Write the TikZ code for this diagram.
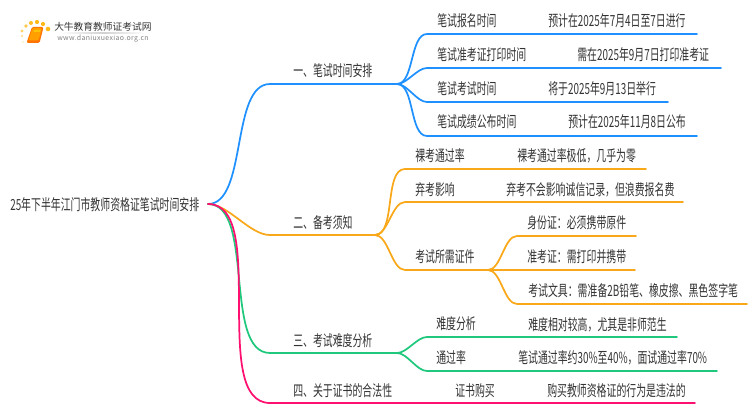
\documentclass[tikz,border=0pt]{standalone}
\usepackage{fontspec}
\setmainfont{Noto Sans CJK SC}
\usetikzlibrary{calc}
\definecolor{cblue}{HTML}{1E90FF}
\definecolor{corange}{HTML}{F9A81A}
\definecolor{cgreen}{HTML}{1FC87C}
\definecolor{cpink}{HTML}{FF1070}
\definecolor{ctext}{HTML}{333333}
\newcommand{\sq}[1]{\scalebox{0.645}[1]{#1}}
\tikzset{
  lbl/.style={anchor=west,inner sep=0pt,text=ctext,font=\fontsize{11.5pt}{13pt}\selectfont},
  conn/.style={line width=1.3pt,line cap=round},
  sbend/.style={out=0,in=180,looseness=0.75}
}
\begin{document}
\begin{tikzpicture}[x=0.75pt,y=-0.75pt]
\useasboundingbox (0,0) rectangle (750,410);
% logo
\foreach \x/\y/\r/\o in {23/42/1/.25,22/36/1.3/.4,22/31/1.6/.6,26/26/1.9/.7,31/23/2/.85,37/22/2.1/.9,43/24/2.1/.9,48/29/2.3/.9}
  \fill[orange!60!yellow,opacity=\o] (\x,\y) circle[radius=\r*0.75pt];
\path[fill=orange!90!red,rounded corners=1pt] (32,27) -- (43.5,27) -- (39.5,43) -- (26.5,43) -- cycle;
\path[fill=orange!75!yellow,rounded corners=1pt] (32.5,28) -- (42,28) -- (38.5,40.5) -- (28.5,40.5) -- cycle;
\path[fill=yellow!55!orange] (34,30) -- (40.5,30) -- (40,32) -- (33.5,32) -- cycle;
\shade[left color=white,right color=white,middle color=black!18] (60,32.6) rectangle (146,33.6);
\node[lbl,font=\fontsize{7.3pt}{9pt}\selectfont] (logot) at (54,27) {大牛教育教师证考试网};
\node[lbl,text=black!50,font=\fontsize{5.2pt}{6pt}\selectfont] (logou) at (57,39) {\addfontfeature{LetterSpace=5}www.daniuxuexiao.org.cn};
% anchors of connectors
\coordinate (root) at (208,204);
\coordinate (b1s) at (270,84); \coordinate (b1h) at (397,84);
\coordinate (b2s) at (270,235); \coordinate (b2h) at (375,235);
\coordinate (b3s) at (270,353); \coordinate (b3h) at (397,353);
\coordinate (b4s) at (270,403); \coordinate (b4e) at (695,403);
\coordinate (a1) at (427,34); \coordinate (a1e) at (697,34);
\coordinate (a2) at (427,68); \coordinate (a2e) at (721,68);
\coordinate (a3) at (427,102); \coordinate (a3e) at (668,102);
\coordinate (a4) at (427,136); \coordinate (a4e) at (697,136);
\coordinate (c1) at (405,169); \coordinate (c1e) at (646,169);
\coordinate (c2) at (405,202); \coordinate (c2e) at (683,202);
\coordinate (c3) at (405,270); \coordinate (c3h) at (488,270);
\coordinate (e1) at (517,236); \coordinate (e1e) at (636,236);
\coordinate (e2) at (517,270); \coordinate (e2e) at (635,270);
\coordinate (e3) at (517,304); \coordinate (e3e) at (747,304);
\coordinate (f1) at (427,337); \coordinate (f1e) at (677,337);
\coordinate (f2) at (427,371); \coordinate (f2e) at (717,371);
% connectors
\begin{scope}[conn,cblue]
\draw (root) to[sbend] (b1s) -- (b1h);
\draw (b1h) to[sbend] (a1) -- (a1e);
\draw (b1h) to[sbend] (a2) -- (a2e);
\draw (b1h) to[sbend] (a3) -- (a3e);
\draw (b1h) to[sbend] (a4) -- (a4e);
\end{scope}
\begin{scope}[conn,corange]
\draw (root) to[sbend] (b2s) -- (b2h);
\draw (b2h) to[sbend] (c1) -- (c1e);
\draw (b2h) to[sbend] (c2) -- (c2e);
\draw (b2h) to[sbend] (c3) -- (c3h);
\draw (c3h) to[sbend] (e1) -- (e1e);
\draw (c3h) to[sbend] (e2) -- (e2e);
\draw (c3h) to[sbend] (e3) -- (e3e);
\end{scope}
\begin{scope}[conn,cgreen]
\draw (root) to[sbend] (b3s) -- (b3h);
\draw (b3h) to[sbend] (f1) -- (f1e);
\draw (b3h) to[sbend] (f2) -- (f2e);
\end{scope}
\draw[conn,cpink] (root) to[sbend] (b4s) -- (b4e);
% labels
\node[lbl] (root-t) at (10,205) {\sq{25年下半年江门市教师资格证笔试时间安排}};
\node[lbl] (n1) at (293,71) {\sq{一、笔试时间安排}};
\node[lbl] (n2) at (293,223) {\sq{二、备考须知}};
\node[lbl] (n3) at (293,341) {\sq{三、考试难度分析}};
\node[lbl] (n4) at (293,391) {\sq{四、关于证书的合法性}};
\node[lbl] (t1) at (437,21) {\sq{笔试报名时间}};
\node[lbl] (t2) at (437,55) {\sq{笔试准考证打印时间}};
\node[lbl] (t3) at (437,89) {\sq{笔试考试时间}};
\node[lbl] (t4) at (437,122) {\sq{笔试成绩公布时间}};
\node[lbl] (v1) at (548,21) {\sq{预计在2025年7月4日至7日进行}};
\node[lbl] (v2) at (577,55) {\sq{需在2025年9月7日打印准考证}};
\node[lbl] (v3) at (548,89) {\sq{将于2025年9月13日举行}};
\node[lbl] (v4) at (568,122) {\sq{预计在2025年11月8日公布}};
\node[lbl] (t5) at (415,156) {\sq{裸考通过率}};
\node[lbl] (t6) at (415,190) {\sq{弃考影响}};
\node[lbl] (t7) at (415,257) {\sq{考试所需证件}};
\node[lbl] (v5) at (517,156) {\sq{裸考通过率极低，几乎为零}};
\node[lbl] (v6) at (506,190) {\sq{弃考不会影响诚信记录，但浪费报名费}};
\node[lbl] (w1) at (527,223) {\sq{身份证：必须携带原件}};
\node[lbl] (w2) at (527,257) {\sq{准考证：需打印并携带}};
\node[lbl] (w3) at (528,291) {\sq{考试文具：需准备2B铅笔、橡皮擦、黑色签字笔}};
\node[lbl] (t8) at (436,324) {\sq{难度分析}};
\node[lbl] (t9) at (436,358) {\sq{通过率}};
\node[lbl] (v8) at (528,325) {\sq{难度相对较高，尤其是非师范生}};
\node[lbl] (v9) at (518,358) {\sq{笔试通过率约30\%至40\%，面试通过率70\%}};
\node[lbl] (t10) at (455,391) {\sq{证书购买}};
\node[lbl] (v10) at (547,391) {\sq{购买教师资格证的行为是违法的}};
\end{tikzpicture}
\end{document}
